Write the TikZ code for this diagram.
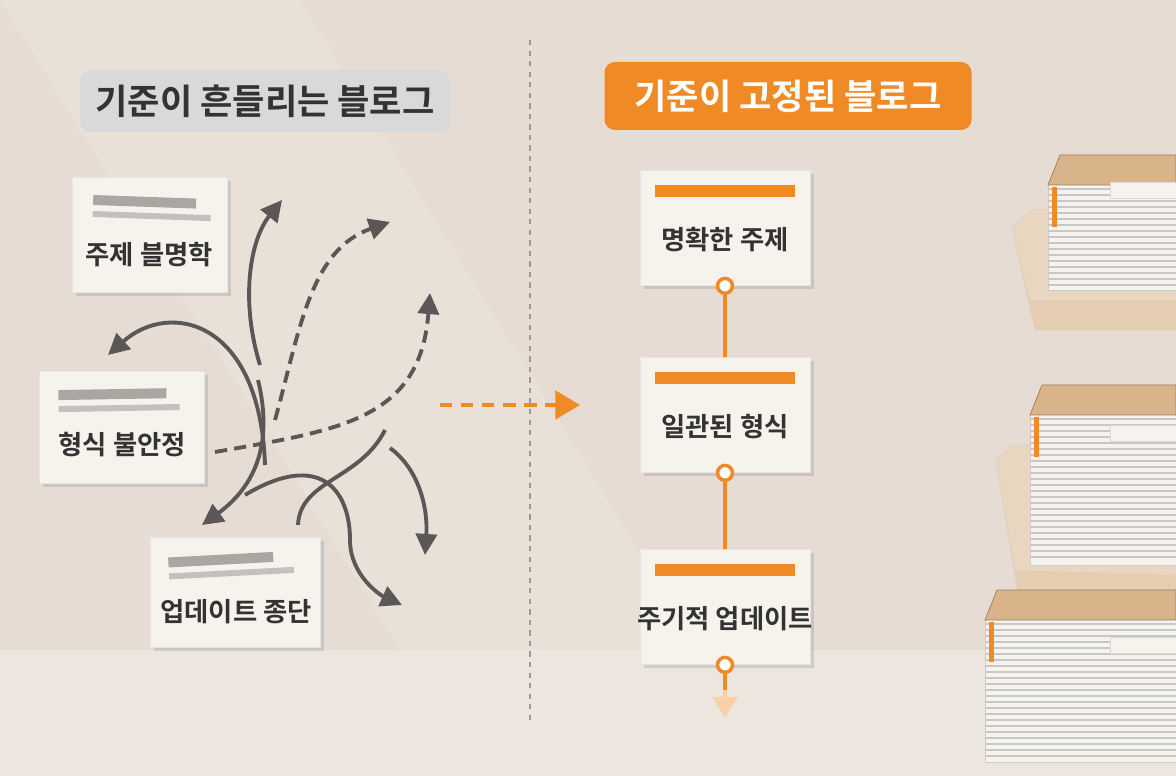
\documentclass[tikz,border=0pt]{standalone}
\usepackage{fontspec}
\newfontfamily\kr{Noto Sans CJK KR}
\newfontfamily\krb{Noto Sans CJK KR Bold}
\usetikzlibrary{arrows.meta,shadows}
\definecolor{bg}{HTML}{E6DCD3}
\definecolor{floor}{HTML}{EDE6DF}
\definecolor{org}{HTML}{F08A24}
\definecolor{ink}{HTML}{333333}
\definecolor{arr}{HTML}{5A5756}
\definecolor{bar}{HTML}{A9A6A4}
\definecolor{kraft}{HTML}{D9B48A}
\definecolor{paper}{HTML}{F6F2EC}
\tikzset{
 card/.style={fill=paper,draw=black!10,drop shadow={opacity=0.25,shadow xshift=2pt,shadow yshift=-2pt}},
 cardtxt/.style={font=\krb\fontsize{15}{18}\selectfont,text=ink},
 garrow/.style={draw=arr,line width=2.2pt,-{Triangle[length=12pt,width=12pt]}},
 gdash/.style={garrow,dashed,dash pattern=on 7pt off 4pt},
 oline/.style={draw=org,line width=2.5pt},
 odot/.style={circle,fill=white,draw=org,line width=2pt,inner sep=3pt},
 shelf/.style={fill=kraft!45!paper,draw=kraft!60!black!30},
}
\newcommand\mystack[4]{% x0, ytop, ybottom, label y
  \fill[paper,draw=black!20] (#1,#2+28) rectangle (1176,#3);
  \foreach \yy in {0,...,30}{
    \pgfmathsetmacro\yl{#2+34+\yy*6}
    \pgfmathparse{\yl<#3-2?1:0}
    \ifnum\pgfmathresult=1 \draw[black!22,line width=0.6pt] (#1,\yl) -- (1176,\yl);\fi
  }
  \fill[kraft,draw=kraft!70!black] (#1+12,#2) -- (1176,#2) -- (1176,#2+30) -- (#1,#2+30) -- cycle;
  \fill[org] (#1+4,#2+32) rectangle (#1+9,#2+72);
  \fill[paper,draw=black!15] (1110,#4) rectangle (1176,#4+16);
}
\begin{document}
\begin{tikzpicture}[x=0.02cm,y=-0.02cm]
\useasboundingbox (0,0) rectangle (1176,776);
\fill[bg] (0,0) rectangle (1176,650);
\fill[floor] (0,650) rectangle (1176,776);
\fill[white,opacity=0.12] (0,0) -- (300,0) -- (700,650) -- (400,650) -- cycle;
\draw[black!40,dashed,line width=1pt] (530,40) -- (530,720);
% titles
\node[fill=black!15,rounded corners=6pt,minimum width=370*0.02cm,minimum height=62*0.02cm,font=\krb\fontsize{20}{24}\selectfont,text=ink] (tl) at (265,101) {기준이 흔들리는 블로그};
\node[fill=org,rounded corners=6pt,minimum width=367*0.02cm,minimum height=68*0.02cm,font=\krb\fontsize{20}{24}\selectfont,text=white] (tr) at (788,96) {기준이 고정된 블로그};
% left cards
\begin{scope}[shift={(150,235)},rotate=-2]
\node[card,minimum width=155*0.02cm,minimum height=115*0.02cm] (c1) at (0,0) {};
\fill[bar] (-58,-38) rectangle (45,-28); \fill[bar!70] (-58,-22) rectangle (60,-16);
\node[cardtxt] at (0,20) {주제 블명학};
\end{scope}
\begin{scope}[shift={(122,427)},rotate=1]
\node[card,minimum width=165*0.02cm,minimum height=112*0.02cm] (c2) at (0,0) {};
\fill[bar] (-63,-38) rectangle (45,-28); \fill[bar!70] (-63,-22) rectangle (58,-16);
\node[cardtxt] at (0,18) {형식 불안정};
\end{scope}
\begin{scope}[shift={(235,592)},rotate=3]
\node[card,minimum width=170*0.02cm,minimum height=110*0.02cm] (c3) at (0,0) {};
\fill[bar] (-65,-38) rectangle (40,-28); \fill[bar!70] (-65,-22) rectangle (60,-16);
\node[cardtxt] at (0,20) {업데이트 종단};
\end{scope}
% chaotic arrows
\coordinate (a1s) at (260,365); \coordinate (a1e) at (282,200);
\draw[garrow] (a1s) .. controls (240,300) and (250,240) .. (a1e);
\coordinate (a2s) at (275,420); \coordinate (a2e) at (390,222);
\draw[gdash] (a2s) .. controls (300,330) and (310,250) .. (a2e);
\coordinate (a3s) at (265,465); \coordinate (a3e) at (108,355);
\draw[garrow] (a3s) .. controls (260,320) and (170,300) .. (a3e);
\coordinate (a4s) at (215,452); \coordinate (a4e) at (430,293);
\draw[gdash] (a4s) .. controls (340,430) and (420,420) .. (a4e);
\coordinate (a5s) at (258,380); \coordinate (a5e) at (202,525);
\draw[garrow] (a5s) .. controls (275,450) and (250,490) .. (a5e);
\coordinate (a6s) at (385,430); \coordinate (a6e) at (298,525);
\draw[garrow,-] (a6s) .. controls (360,480) and (300,480) .. (a6e);
\coordinate (a7s) at (245,495); \coordinate (a7e) at (402,605);
\draw[garrow] (a7s) .. controls (320,450) and (350,490) .. (350,540) .. controls (350,575) and (380,595) .. (a7e);
\coordinate (a8s) at (390,448); \coordinate (a8e) at (425,555);
\draw[garrow] (a8s) .. controls (420,470) and (428,510) .. (a8e);
% center arrow
\coordinate (ms) at (440,405); \coordinate (me) at (580,405);
\draw[org,line width=2.5pt,dash pattern=on 7pt off 5pt,-{Triangle[length=14pt,width=16pt]}] (ms) -- (me);
% right flow
\foreach \n/\y/\t in {r1/228/명확한 주제,r2/415/일관된 형식,r3/607/주기적 업데이트}{
 \node[card,minimum width=170*0.02cm,minimum height=115*0.02cm] (\n) at (725,\y) {};
 \fill[org] (655,\y-43) rectangle (795,\y-31);
 \node[cardtxt] at (725,\y+12) {\t};
}
\node[odot] (d1) at (r1.south) {};
\node[odot] (d2) at (r2.south) {};
\node[odot] (d3) at (r3.south) {};
\draw[oline] (d1) -- (r2.north);
\draw[oline] (d2) -- (r3.north);
\coordinate (end) at (725,718);
\draw[org!40,line width=2.5pt,-{Triangle[length=12pt,width=14pt]}] (d3) -- (end);
\draw[oline] (d3) -- (725,690);
% shelves
\fill[shelf] (1030,210) -- (1176,210) -- (1176,330) -- (1035,330) -- (1012,228) -- cycle;
\fill[kraft!60!paper] (1012,228) -- (1035,330) -- (1176,330) -- (1176,300) -- (1030,300) -- cycle;
\mystack{1048}{155}{290}{182}
\fill[shelf] (1012,445) -- (1176,445) -- (1176,605) -- (1020,605) -- (996,460) -- cycle;
\fill[kraft!60!paper] (996,460) -- (1020,605) -- (1176,605) -- (1176,575) -- (1015,570) -- cycle;
\mystack{1030}{385}{565}{425}
\mystack{985}{590}{762}{637}
\end{tikzpicture}
\end{document}
